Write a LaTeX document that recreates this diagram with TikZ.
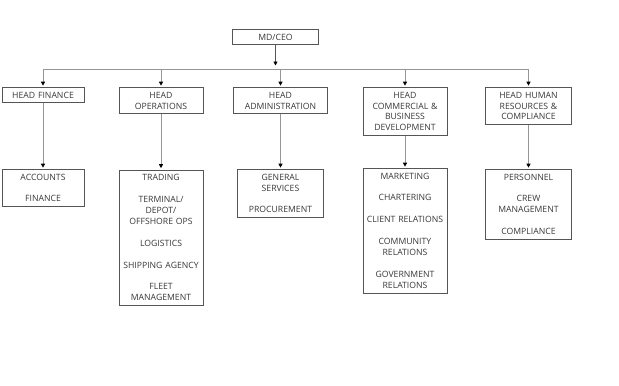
\documentclass[tikz,border=0pt]{standalone}
\usepackage{fontspec}
\setmainfont{Open Sans}
\usepackage{xcolor}
\usetikzlibrary{arrows.meta,positioning}
\definecolor{boxline}{RGB}{85,85,85}
\definecolor{wire}{RGB}{150,150,150}
\definecolor{ink}{RGB}{55,55,55}
\newcommand{\gap}{\\[8.2pt]}

\begin{document}
\begin{tikzpicture}[x=0.75pt,y=-0.75pt,
  orgbox/.style={draw=boxline,line width=0.6pt,text=ink,align=center,anchor=north,
                 font=\fontsize{6.5}{8.2}\selectfont,inner xsep=0pt,inner ysep=1.4pt,
                 text width=#1,execute at begin node={\rule{0pt}{6.6pt}},
                 execute at end node={\rule[-2.2pt]{0pt}{1pt}}},
  orgbox/.default=63pt,
  link/.style={-{Triangle[length=3pt,width=3pt,color=black]},wire,line width=0.6pt,shorten >=1pt}]
  \useasboundingbox (0,0) rectangle (619,386);
  % top
  \node[orgbox=64pt] (ceo) at (275.5,29) {MD/CEO};
  \coordinate (bus) at (275.5,69.5);
  % heads
  \node[orgbox=61.5pt] (hfin) at (43,87) {HEAD FINANCE};
  \node[orgbox] (hops) at (161,87) {HEAD\\OPERATIONS};
  \node[orgbox=70pt] (hadm) at (280.5,87) {HEAD\\ADMINISTRATION};
  \node[orgbox] (hcom) at (405,87) {HEAD\\COMMERCIAL \&\\BUSINESS\\DEVELOPMENT};
  \node[orgbox=64pt] (hhr) at (528.5,87) {HEAD HUMAN\\RESOURCES \&\\COMPLIANCE};
  % departments
  \node[orgbox=61.5pt] (dfin) at (43,169) {ACCOUNTS\gap FINANCE};
  \node[orgbox] (dops) at (161,169.5) {TRADING\gap TERMINAL/\\DEPOT/\\OFFSHORE OPS\gap
    LOGISTICS\gap SHIPPING AGENCY\gap FLEET\\MANAGEMENT};
  \node[orgbox=64pt] (dadm) at (280.5,169) {GENERAL\\SERVICES\gap PROCUREMENT};
  \node[orgbox] (dcom) at (405,168) {MARKETING\gap CHARTERING\gap CLIENT RELATIONS\gap
    COMMUNITY\\RELATIONS\gap GOVERNMENT\\RELATIONS};
  \node[orgbox=64pt] (dhr) at (528.5,169) {PERSONNEL\gap CREW\\MANAGEMENT\gap COMPLIANCE};
  % connectors
  \draw[link,boxline,shorten >=3pt] (ceo.south) -- (bus);
  \foreach \h in {hfin,hops,hadm,hcom,hhr}
    \draw[link] (bus) -| (\h.north);
  \foreach \h/\d in {hfin/dfin,hops/dops,hadm/dadm,hcom/dcom,hhr/dhr}
    \draw[link] (\h.south) -- (\d.north);
\end{tikzpicture}
\end{document}
